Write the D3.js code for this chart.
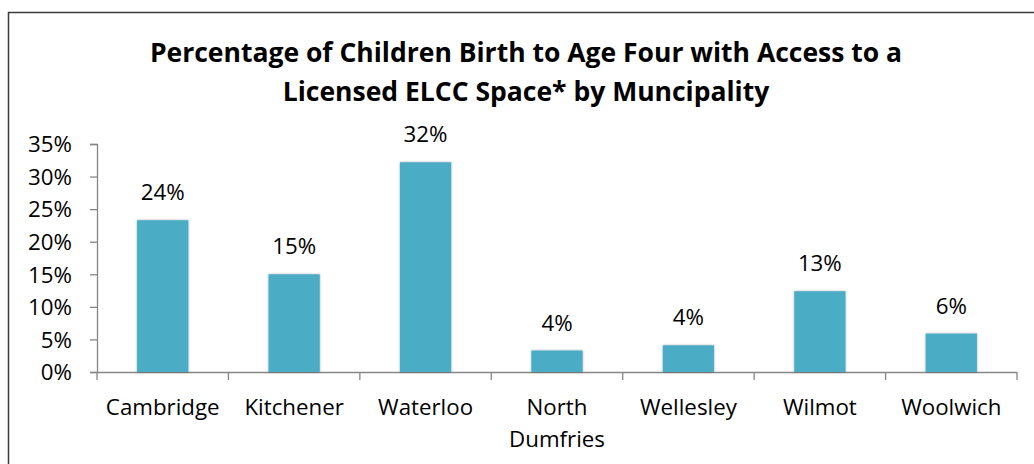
<!DOCTYPE html>
<html>
<head>
<meta charset="utf-8">
<script src="https://cdn.jsdelivr.net/npm/d3@7"></script>
<style>
  body { margin: 0; background: #fff; }
  svg { display: block; font-family: "Open Sans", Lato, sans-serif; }
</style>
</head>
<body>
<svg id="chart" width="1034" height="464"></svg>
<script>
// data
var municipalities = ["Cambridge", "Kitchener", "Waterloo", "North Dumfries", "Wellesley", "Wilmot", "Woolwich"]
var pctAccess = [23.3, 15.0, 32.2, 3.3, 4.1, 12.4, 5.9]
var valueLabels = ["24%", "15%", "32%", "4%", "4%", "13%", "6%"]
var yTicks = [0, 5, 10, 15, 20, 25, 30, 35]
var titleLines = ["Percentage of Children Birth to Age Four with Access to a", "Licensed ELCC Space* by Muncipality"]

window.onload = () => {
  draw_barchart()
}

function draw_barchart(){
  var svg = d3.select("#chart")
  var labelSize = 22.3

  // outer frame
  svg.append("rect")
    .attr("x", 8.5).attr("y", 12.5)
    .attr("width", 1040).attr("height", 470)
    .attr("fill", "white")
    .attr("stroke", "#3a3a3a")
    .attr("stroke-width", 1.5)

  // soft shadow for bars
  var defs = svg.append("defs")
  var f = defs.append("filter").attr("id", "shadow")
    .attr("x", "-20%").attr("y", "-20%").attr("width", "140%").attr("height", "140%")
  f.append("feDropShadow")
    .attr("dx", 0).attr("dy", 0).attr("stdDeviation", 1.3)
    .attr("flood-color", "#000").attr("flood-opacity", 0.35)

  // title
  svg.append("g")
    .selectAll("text")
    .data(titleLines)
    .enter()
    .append("text")
      .attr("x", 526)
      .attr("y", function(d, i){ return 62 + i * 39 })
      .attr("text-anchor", "middle")
      .attr("font-weight", "bold")
      .attr("font-size", 26.5)
      .attr("fill", "#000")
      .text(function(d){ return d })

  var left = 97, right = 1017, top = 144, bottom = 372

  var x = d3.scaleBand()
    .domain(municipalities)
    .range([left, right])
    .paddingInner(0.61)
    .paddingOuter(0.305)

  var y = d3.scaleLinear()
    .domain([0, 35])
    .range([bottom, top])

  // y axis
  var yAxis = svg.append("g")
    .attr("transform", "translate(" + left + ",0)")
    .call(d3.axisLeft(y).tickValues(yTicks).tickSize(7).tickPadding(18)
      .tickFormat(function(d){ return d + "%" }))
  yAxis.select(".domain").attr("stroke", "#868686").attr("stroke-width", 1.3)
  yAxis.selectAll(".tick line").attr("stroke", "#868686").attr("stroke-width", 1.3)
  yAxis.selectAll(".tick text")
    .attr("font-size", labelSize).attr("fill", "#000")
    .attr("font-family", "'Open Sans', sans-serif")
    .attr("dy", "0.35em")

  // x axis line + boundary ticks
  var step = x.step()
  var bounds = d3.range(municipalities.length + 1).map(function(i){ return left + i * step })
  svg.append("line")
    .attr("x1", left).attr("x2", right)
    .attr("y1", bottom + 0.5).attr("y2", bottom + 0.5)
    .attr("stroke", "#868686").attr("stroke-width", 1.3)
  svg.append("g")
    .selectAll("line")
    .data(bounds)
    .enter()
    .append("line")
      .attr("x1", function(d){ return d }).attr("x2", function(d){ return d })
      .attr("y1", bottom).attr("y2", bottom + 8)
      .attr("stroke", "#868686").attr("stroke-width", 1.3)

  // bars
  svg.append("g")
    .selectAll("rect")
    .data(pctAccess)
    .enter()
    .append("rect")
      .attr("x", function(d, i){ return x(municipalities[i]) })
      .attr("y", function(d){ return y(d) })
      .attr("width", x.bandwidth())
      .attr("height", function(d){ return bottom - y(d) })
      .attr("fill", "#4bacc6")
      .attr("filter", "url(#shadow)")

  // value labels
  svg.append("g")
    .selectAll("text")
    .data(pctAccess)
    .enter()
    .append("text")
      .attr("x", function(d, i){ return x(municipalities[i]) + x.bandwidth() / 2 })
      .attr("y", function(d){ return y(d) - 20 })
      .attr("text-anchor", "middle")
      .attr("font-size", labelSize)
      .attr("fill", "#000")
      .text(function(d, i){ return valueLabels[i] })

  // category labels (wrap two-word name)
  svg.append("g")
    .selectAll("text")
    .data(municipalities)
    .enter()
    .append("text")
      .attr("x", function(d){ return x(d) + x.bandwidth() / 2 })
      .attr("y", 415)
      .attr("text-anchor", "middle")
      .attr("font-size", labelSize)
      .attr("fill", "#000")
      .each(function(d){
        var parts = d.split(" ")
        var t = d3.select(this)
        parts.forEach(function(p, i){
          t.append("tspan")
            .attr("x", t.attr("x"))
            .attr("dy", i === 0 ? 0 : 32)
            .text(p)
        })
      })
}
</script>
</body>
</html>
